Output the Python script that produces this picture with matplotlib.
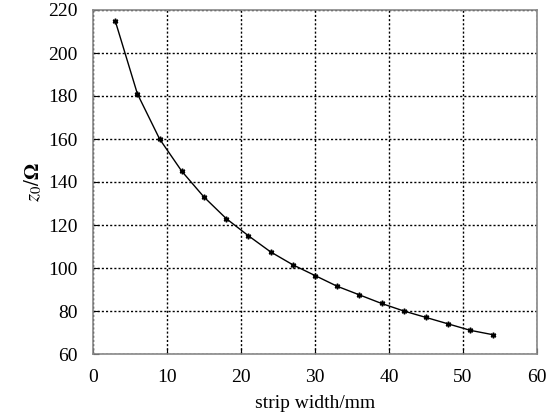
import matplotlib
matplotlib.use("Agg")
import matplotlib.pyplot as plt

# strip width (mm) vs characteristic impedance (ohm)
width_mm = [3, 6, 9, 12, 15, 18, 21, 24, 27, 30, 33, 36, 39, 42, 45, 48, 51, 54]
z0_ohm = [215, 181, 160, 145, 133, 123, 115, 107.5, 101.5, 96.5,
          91.5, 87.5, 83.5, 80, 77, 74, 71, 69]

plt.rcParams['font.family'] = ['Liberation Serif', 'DejaVu Serif']
plt.rcParams['mathtext.fontset'] = 'stix'

fig = plt.figure(figsize=(5.56, 4.19), dpi=100)
ax = fig.add_axes([93 / 556, 1 - 354 / 419, 444 / 556, 344 / 419])

ax.plot(width_mm, z0_ohm, color='black', linewidth=1.0,
        marker=(6, 2, 0), markersize=4, markeredgewidth=1.1)

ax.set_xlim(0, 60)
ax.set_ylim(60, 220)
ax.set_xticks(range(0, 61, 10))
ax.set_yticks(range(60, 221, 20))
ax.grid(True, color='black', linestyle=(0, (1.5, 1.5)), linewidth=1.0)
ax.tick_params(direction='in', labelsize=14, length=4, color='black', pad=11)
for s in ax.spines.values():
    s.set_color('#888888')
    s.set_linewidth(1.2)

ax.set_xlabel('strip width/mm', fontsize=14, labelpad=6)
ax.set_ylabel(r'$z_0/\mathbf{\Omega}$', fontsize=15, labelpad=3)

fig.savefig('out.png', dpi=100)
